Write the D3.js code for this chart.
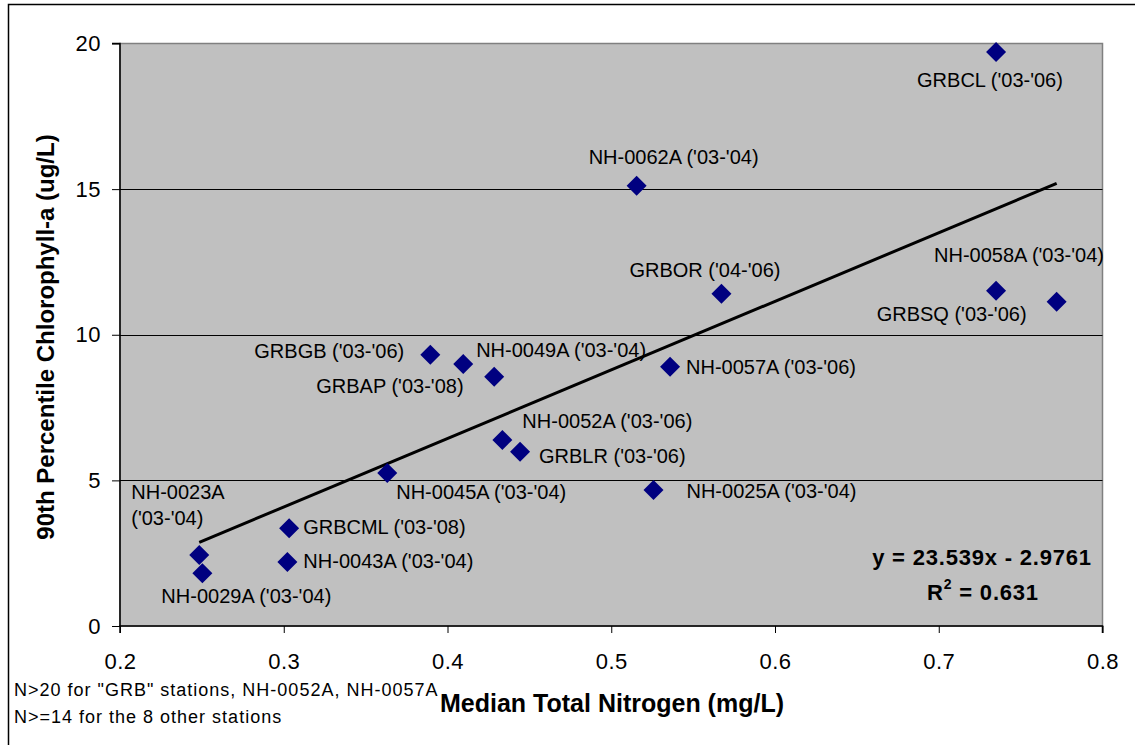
<!DOCTYPE html>
<html><head><meta charset="utf-8">
<script src="https://cdn.jsdelivr.net/npm/d3@7"></script>
<style>
html,body{margin:0;padding:0;background:#fff;}
svg{display:block;font-family:"Liberation Sans",Arial,sans-serif;}
</style></head>
<body><svg id="c" width="1135" height="745"></svg>
<script>
// ---- data ----
const stations = ["GRBCL ('03-'06)","NH-0062A ('03-'04)","GRBOR ('04-'06)","NH-0058A ('03-'04)","GRBSQ ('03-'06)","GRBGB ('03-'06)","GRBAP ('03-'08)","NH-0049A ('03-'04)","NH-0057A ('03-'06)","NH-0052A ('03-'06)","GRBLR ('03-'06)","NH-0045A ('03-'04)","NH-0025A ('03-'04)","GRBCML ('03-'08)","NH-0043A ('03-'04)","NH-0023A ('03-'04)","NH-0029A ('03-'04)"];
const medianTN = [0.735,0.5155,0.5673,0.735,0.772,0.3895,0.4096,0.4285,0.5359,0.4335,0.4443,0.3632,0.5258,0.3033,0.3022,0.2484,0.2503];
const chlA90 = [19.71,15.12,11.41,11.51,11.13,9.31,9.00,8.56,8.90,6.39,5.98,5.25,4.67,3.36,2.20,2.44,1.81];
// label offsets from the marker (px)
const labelDx = [-79,-48,-92,-62,-180,-176,-147,-18,16,20,19,9,33,14,16,-68,-41];
const labelDy = [28,-29,-24,-36,12,-4,22,-27,0,-19,4,19,1,-1,-1,-63,23];
const xTicks = [0.2,0.3,0.4,0.5,0.6,0.7,0.8];
const yTicks = [0,5,10,15,20];
const slope = 23.539, intercept = -2.9761, r2 = "0.631";
const xTitle = "Median Total Nitrogen (mg/L)";
const yTitle = "90th Percentile Chlorophyll-a (ug/L)";
const notes = ["N>20 for \"GRB\" stations, NH-0052A, NH-0057A","N>=14 for the 8 other stations"];

// ---- layout ----
const svg = d3.select("#c");
const L = 120, R = 1102.5, T = 43.5, B = 626;
const x = d3.scaleLinear().domain([0.2,0.8]).range([L,R]);
const y = d3.scaleLinear().domain([0,20]).range([B,T]);

// outer chart border
svg.append("rect").attr("x",8.5).attr("y",4.5).attr("width",1140).attr("height",760)
  .attr("fill","none").attr("stroke","#000").attr("stroke-width",1.5);

// plot area
svg.append("rect").attr("x",L).attr("y",T).attr("width",R-L).attr("height",B-T)
  .attr("fill","#C0C0C0").attr("stroke","#808080").attr("stroke-width",1.5);

// gridlines
svg.append("g").selectAll("line").data(yTicks.filter(d=>d>0 && d<20)).join("line")
  .attr("x1",L).attr("x2",R).attr("y1",d=>Math.round(y(d))+0.5).attr("y2",d=>Math.round(y(d))+0.5)
  .attr("stroke","#000").attr("stroke-width",1);

// axes
const yAxis = d3.axisLeft(y).tickValues(yTicks).tickSize(8).tickPadding(11).tickFormat(d3.format("d"));
const gy = svg.append("g").attr("transform",`translate(${L},0)`).call(yAxis);
const xAxis = d3.axisBottom(x).tickValues(xTicks).tickSize(7).tickPadding(20).tickFormat(d3.format(".1f"));
const gx = svg.append("g").attr("transform",`translate(0,${B})`).call(xAxis);
[gx,gy].forEach(g=>{
  g.select(".domain").attr("stroke","#000").attr("stroke-width",1.5);
  g.selectAll(".tick line").attr("stroke","#000");
  g.selectAll(".tick text").attr("fill","#000").attr("font-size",22).attr("letter-spacing","0.5px")
   .attr("font-family","'Liberation Sans',Arial,sans-serif");
});
gy.select(".domain").attr("d",`M-8,${T}H0V${B}`);
gx.select(".domain").attr("d",`M${L},7V0H${R}V7`);

// trend line
const xs = d3.extent(medianTN);
svg.append("line").attr("x1",x(xs[0])).attr("y1",y(slope*xs[0]+intercept))
  .attr("x2",x(xs[1])).attr("y2",y(slope*xs[1]+intercept))
  .attr("stroke","#000").attr("stroke-width",3);

// markers
const pts = stations.map((s,i)=>({s, x:medianTN[i], y:chlA90[i], dx:labelDx[i], dy:labelDy[i]}));
svg.append("g").selectAll("path").data(pts).join("path")
  .attr("transform",d=>`translate(${x(d.x)},${y(d.y)})`)
  .attr("d","M0,-10L10,0L0,10L-10,0Z").attr("fill","#000080");

// labels
const lab = svg.append("g").attr("font-size",20).attr("fill","#000");
pts.forEach(d=>{
  const px = x(d.x)+d.dx, py = y(d.y)+d.dy;
  if (d.s.startsWith("NH-0023A")) {
    const parts = d.s.split(" ");
    lab.append("text").attr("x",px).attr("y",py).attr("dy","0.35em").text(parts[0]);
    lab.append("text").attr("x",px).attr("y",py+26).attr("dy","0.35em").text(parts[1]);
  } else {
    lab.append("text").attr("x",px).attr("y",py).attr("dy","0.35em").text(d.s);
  }
});

// equation
const eq = svg.append("g").attr("font-size",22).attr("font-weight","bold").attr("text-anchor","middle")
  .attr("letter-spacing","0.8px");
eq.append("text").attr("x",982).attr("y",557.5).attr("dy","0.35em")
  .text(`y = ${slope}x - ${Math.abs(intercept)}`);
const r2t = eq.append("text").attr("x",983).attr("y",592).attr("dy","0.35em");
r2t.append("tspan").text("R");
r2t.append("tspan").attr("font-size",14).attr("dy","-0.75em").text("2");
r2t.append("tspan").attr("dy","0.48em").text(` = ${r2}`);

// axis titles
svg.append("text").attr("x",612).attr("y",703).attr("dy","0.35em").attr("text-anchor","middle")
  .attr("font-size",25).attr("font-weight","bold").text(xTitle);
svg.append("text").attr("transform","translate(54,337) rotate(-90)")
  .attr("text-anchor","middle").attr("font-size",24).attr("font-weight","bold").text(yTitle);

// notes
svg.append("g").attr("font-size",18).attr("letter-spacing","1px").selectAll("text").data(notes).join("text")
  .attr("x",14).attr("y",(d,i)=>690+i*27).attr("dy","0.35em").text(d=>d);
</script></body></html>
